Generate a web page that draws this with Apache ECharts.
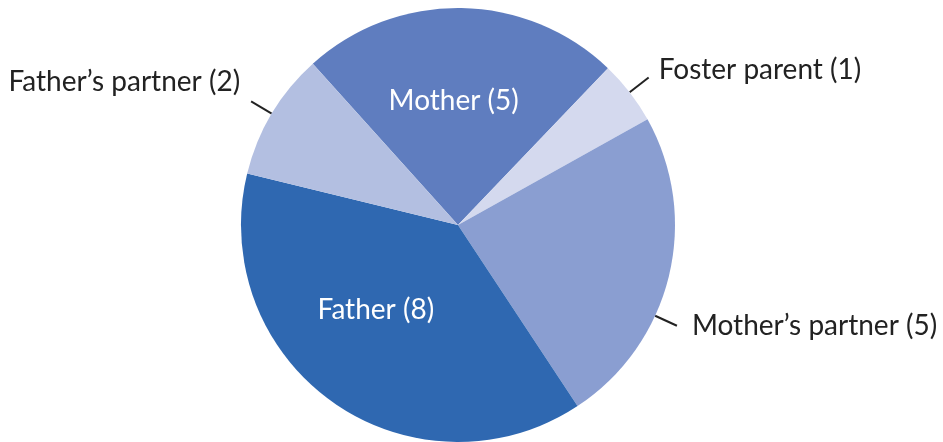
<!DOCTYPE html>
<html>
<head>
<meta charset="utf-8">
<script src="https://cdn.jsdelivr.net/npm/echarts@6/dist/echarts.min.js"></script>
<style>
  html, body { margin: 0; padding: 0; background: #fff; }
  #chart { width: 943px; height: 442px; }
</style>
</head>
<body>
<div id="chart"></div>
<script>
// data
const categories = ['Mother', 'Foster parent', 'Mother’s partner', 'Father', 'Father’s partner'];
const counts = [5, 1, 5, 8, 2];
const colors = ['#5f7dbf', '#d4d9ee', '#8a9ed1', '#2f68b1', '#b3bfe1'];
const insideLabel = [true, false, false, true, false];

// label tweaks (pixels / degrees)
const labelShift = [[-6, -13], [10, -8], [15, 0], [-18, -6], [-11, -19]];
const lineAngleShift = [0, 0, 11, 0, 0];

const center = [458, 225];
const R = 217;
const startAngle = 132;
const lineLen = 24;

const total = counts.reduce((a, b) => a + b, 0);

const chart = echarts.init(document.getElementById('chart'));

function midCompass(i) {
  let before = 0;
  for (let k = 0; k < i; k++) before += counts[k];
  return (90 - startAngle) + (before + counts[i] / 2) / total * 360 + lineAngleShift[i];
}

const option = {
  animation: false,
  series: [{
    type: 'pie',
    center: center,
    radius: R,
    startAngle: startAngle,
    clockwise: true,
    avoidLabelOverlap: false,
    label: {
      fontFamily: 'Lato',
      fontSize: 28,
      color: '#222222',
      formatter: p => p.name + ' (' + p.value + ')'
    },
    labelLine: {
      length: lineLen,
      length2: 0,
      lineStyle: { color: '#222222', width: 2 }
    },
    itemStyle: { borderWidth: 0 },
    emphasis: { disabled: true },
    data: categories.map((name, i) => ({
      name: name,
      value: counts[i],
      itemStyle: { color: colors[i] },
      label: insideLabel[i]
        ? { position: 'inside', color: '#ffffff' }
        : { position: 'outside' },
      labelLine: { show: !insideLabel[i] }
    })),
    labelLayout: function (params) {
      const i = params.dataIndex;
      const s = labelShift[i];
      if (insideLabel[i]) {
        return { dx: s[0], dy: s[1] };
      }
      const a = midCompass(i) * Math.PI / 180;
      const sx = Math.sin(a), sy = -Math.cos(a);
      const p0 = [center[0] + R * sx, center[1] + R * sy];
      const p1 = [center[0] + (R + lineLen) * sx, center[1] + (R + lineLen) * sy];
      return {
        x: p1[0] + s[0],
        y: p1[1] + s[1],
        align: sx > 0 ? 'left' : 'right',
        verticalAlign: 'middle',
        labelLinePoints: [p0, p1, p1]
      };
    }
  }]
};

chart.setOption(option);
</script>
</body>
</html>
